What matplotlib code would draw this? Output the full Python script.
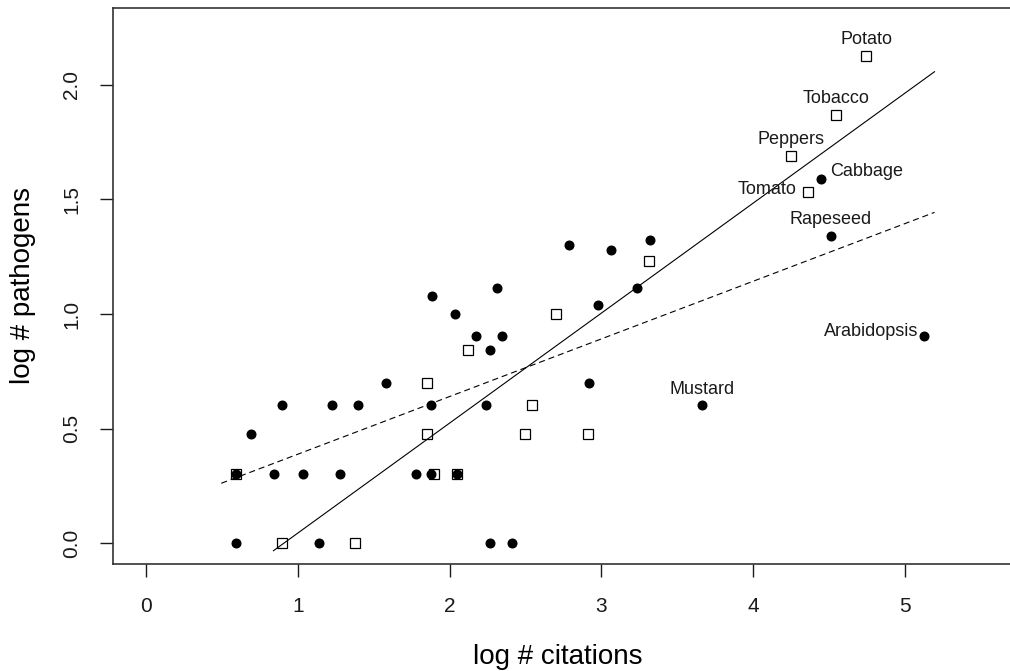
import numpy as np
import matplotlib
matplotlib.use("Agg")
import matplotlib.pyplot as plt

plt.rcParams['font.family'] = ['Liberation Sans', 'DejaVu Sans']

#* filled dots (log # citations, log # pathogens)
dot_x = [1.884, 1.58, 0.896, 1.227, 1.396, 1.878, 0.693, 0.591, 0.842, 1.033,
         1.276, 1.782, 1.88, 0.591, 1.138, 2.79, 3.064, 3.32, 2.311, 2.035,
         3.238, 2.98, 2.174, 2.349, 2.265, 2.918, 2.238, 2.05, 2.265, 2.413,
         3.664, 4.448, 4.512, 5.126]
dot_y = [1.079, 0.699, 0.602, 0.602, 0.602, 0.602, 0.477, 0.301, 0.301, 0.301,
         0.301, 0.301, 0.301, 0.0, 0.0, 1.301, 1.279, 1.322, 1.114, 1.0,
         1.114, 1.041, 0.903, 0.903, 0.845, 0.699, 0.602, 0.301, 0.0, 0.0,
         0.602, 1.591, 1.342, 0.903]

#* open squares
sq_x = [1.851, 1.851, 0.591, 1.90, 0.896, 1.375, 3.316, 2.702, 2.121, 2.545,
        2.499, 2.912, 2.05, 4.747, 4.545, 4.253, 4.365]
sq_y = [0.699, 0.477, 0.301, 0.301, 0.0, 0.0, 1.230, 1.0, 0.845, 0.602,
        0.477, 0.477, 0.301, 2.127, 1.869, 1.690, 1.531]

#* labelled crops: name, x, y, where the text sits
lab_name = ["Potato", "Tobacco", "Peppers", "Cabbage", "Tomato", "Rapeseed",
            "Arabidopsis", "Mustard"]
lab_x = [4.747, 4.545, 4.253, 4.448, 4.365, 4.512, 5.126, 3.664]
lab_y = [2.127, 1.869, 1.690, 1.591, 1.531, 1.342, 0.903, 0.602]
lab_pos = ["top", "top", "top", "right", "left", "top", "left", "top"]

#* fitted lines: [intercept, slope], x range
solid_fit = [-0.435, 0.4796]
solid_rng = [0.84, 5.196]
dash_fit = [0.1373, 0.2514]
dash_rng = [0.496, 5.196]

fig = plt.figure(figsize=(10.10, 6.71), dpi=100)
#* right edge of the box falls just outside the picture, as in the original
ax = fig.add_axes([0.1115, 0.1595, 0.8925, 0.8286])

ax.plot(sq_x, sq_y, 's', markerfacecolor='none', markeredgecolor='black',
        markersize=7.5, markeredgewidth=0.9, zorder=3)
ax.plot(dot_x, dot_y, 'o', color='black', markersize=6.2, zorder=4)

xs = np.array(solid_rng)
ax.plot(xs, solid_fit[0] + solid_fit[1]*xs, '-', color='black', linewidth=0.8)
xd = np.array(dash_rng)
ax.plot(xd, dash_fit[0] + dash_fit[1]*xd, '--', color='black', linewidth=0.8,
        dashes=(5.5, 3.5))

#* (dx, dy) in pixels, alignment
offs = {"top": (0, 16, 'center', 'center'),
        "right": (9, 7, 'left', 'center'),
        "left": (-6, 5, 'right', 'center')}
for nm, x, y, p in zip(lab_name, lab_x, lab_y, lab_pos):
    dx, dy, ha, va = offs[p]
    if nm == "Tomato":
        dx = -12
        dy = 3
    ax.annotate(nm, (x, y), xytext=(dx, dy), textcoords='offset pixels',
                ha=ha, va=va, fontsize=13, color='#1a1a1a')

ax.set_xlim(-0.22, 5.72)
ax.set_ylim(-0.09, 2.335)
ax.set_xticks([0, 1, 2, 3, 4, 5])
ax.set_yticks([0.0, 0.5, 1.0, 1.5, 2.0])
ax.set_yticklabels(["0.0", "0.5", "1.0", "1.5", "2.0"], rotation=90, va='center')
ax.tick_params(direction='out', length=9.3, width=1, labelsize=15,
               colors='#1a1a1a')
ax.tick_params(axis='x', pad=14.5)
ax.tick_params(axis='y', pad=13.5)
for s in ax.spines.values():
    s.set_linewidth(1.2)
    s.set_color('#333333')

ax.set_xlabel("log # citations", fontsize=20, va='center')
ax.set_ylabel("log # pathogens", fontsize=20, va='center')
ax.xaxis.set_label_coords(0.5 - (1.0115 - 1) / 2, -0.167)
ax.yaxis.set_label_coords(-0.0994, 0.5)

fig.savefig("out.png", dpi=100)
